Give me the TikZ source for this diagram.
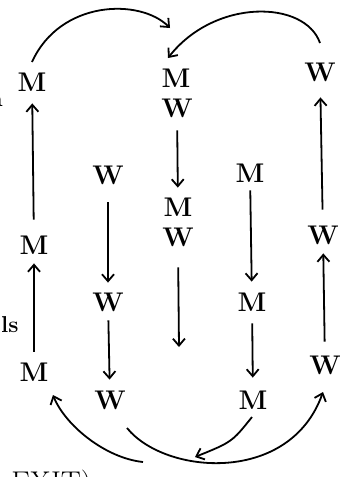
\documentclass[tikz,border=0pt]{standalone}
\usetikzlibrary{arrows.meta}
\begin{document}
\begin{tikzpicture}[x=0.5pt,y=-0.5pt,
  lt/.style={font=\fontsize{13.5}{13.5}\selectfont\bfseries, inner sep=0pt, text height=9pt, text depth=0pt},
  arr/.style={line width=0.9pt, -{Straight Barb[length=3.5pt,width=6pt,line width=0.9pt]}},
  side/.style={font=\fontsize{11.5}{11.5}\selectfont\bfseries, inner sep=0pt}]
\useasboundingbox (0,0) rectangle (345,477);
% column 1
\node[lt] (m1a) at (34,372) {M};
\node[lt] (m1b) at (34,245) {M};
\node[lt] (m1c) at (32,82) {M};
% column 2
\node[lt] (w2a) at (108,175) {W};
\node[lt] (w2b) at (108,302) {W};
\node[lt] (w2c) at (110,400) {W};
% column 3
\node[lt] (c3a) at (176,78) {M};
\node[lt] (c3b) at (177,108) {W};
\node[lt] (c3c) at (178,207) {M};
\node[lt] (c3d) at (178,237) {W};
\coordinate (c3e) at (179,347);
% column 4
\node[lt] (m4a) at (250,173) {M};
\node[lt] (m4b) at (252,302) {M};
\node[lt] (m4c) at (253,400) {M};
% column 5
\node[lt] (w5a) at (320,72) {W};
\node[lt] (w5b) at (323,235) {W};
\node[lt] (w5c) at (325,365) {W};
% curve ends
\coordinate (tl0) at (32,62);
\coordinate (tl1) at (170,28);
\coordinate (tr0) at (320,43);
\coordinate (tr1) at (168,58);
\coordinate (ba0) at (127,428);
\coordinate (ba1) at (323,392);
\coordinate (bb0) at (143,462);
\coordinate (bb1) at (53,395);
\coordinate (bc0) at (252,417);
\coordinate (bc1) at (195,457);
% side texts (cut by the page edge, as in the reference)
\node[side, anchor=base east] (sa) at (3,106) {a};
\node[side, anchor=base east] (sl) at (19,332) {ls};
\node[font=\fontsize{15}{15}\selectfont, inner sep=0pt, anchor=north west] (ex) at (11,470) {EXIT)};
% column arrows
\draw[arr, shorten <=5.5pt, shorten >=4.5pt] (m1a) -- (m1b);
\draw[arr, shorten <=8pt, shorten >=6pt] (m1b) -- (m1c);
\draw[arr, shorten <=9pt, shorten >=5pt] (w2a) -- (w2b);
\draw[arr, shorten <=4.5pt, shorten >=5.5pt] (w2b) -- (w2c);
\draw[arr, shorten <=6.5pt, shorten >=5pt] (c3b) -- (c3c);
\draw[arr, shorten <=10.5pt] (c3d.south) -- (c3e);
\draw[arr, shorten <=4pt, shorten >=5.5pt] (m4a) -- (m4b);
\draw[arr, shorten <=6pt, shorten >=6.5pt] (m4b) -- (m4c);
\draw[arr, shorten <=7pt, shorten >=4.5pt] (w5c) -- (w5b);
\draw[arr, shorten <=8pt, shorten >=8pt] (w5b) -- (w5a);
% curved arrows
\draw[arr] (tl0) .. controls (60,0) and (140,-2) .. (tl1);
\draw[arr] (tr0) .. controls (305,0) and (215,-2) .. (tr1);
\draw[arr] (ba0) .. controls (165,475) and (290,485) .. (ba1);
\draw[arr] (bb0) .. controls (105,458) and (65,425) .. (bb1);
\draw[arr] (bc0) .. controls (232,442) .. (bc1);
\end{tikzpicture}
\end{document}
